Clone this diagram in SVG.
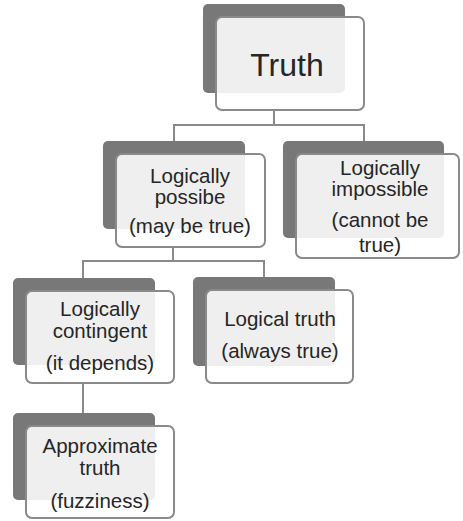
<svg xmlns="http://www.w3.org/2000/svg" width="463" height="521" viewBox="0 0 463 521">
  <style>
    .back { fill: #787878; }
    .front { fill: #ffffff; fill-opacity: 0.88; stroke: #8a8a8a; stroke-width: 2; }
    .lbl { font-family: "Liberation Sans", Arial, sans-serif; font-size: 20.5px; fill: #262626; text-anchor: middle; }
    .big { font-size: 32px; }
    .link { fill: none; stroke: #8a8a8a; stroke-width: 2; }
  </style>
  <rect width="463" height="521" fill="#ffffff"/>

  <!-- connectors -->
  <g id="connectors">
    <path class="link" d="M274,110 V125 M174,141 V125 H364 V141"/>
    <path class="link" d="M173,247 V261 M83,278 V261 H264 V277"/>
    <path class="link" d="M83,383 V413"/>
  </g>

  <g id="truth">
    <rect class="back" x="203" y="4" width="142" height="89" rx="5"/>
    <rect class="front" x="216" y="17" width="148" height="93" rx="6"/>
    <text class="lbl big" x="287" y="76">Truth</text>
  </g>

  <g id="possible">
    <rect class="back" x="103" y="141" width="142" height="88" rx="5"/>
    <rect class="front" x="116" y="154" width="149" height="93" rx="6"/>
    <text class="lbl" x="190" y="183">Logically</text>
    <text class="lbl" x="190" y="204">possibe</text>
    <text class="lbl" x="190" y="233">(may be true)</text>
  </g>

  <g id="impossible">
    <rect class="back" x="283" y="141" width="161" height="97" rx="5"/>
    <rect class="front" x="296" y="154" width="163" height="104" rx="6"/>
    <text class="lbl" x="380" y="175">Logically</text>
    <text class="lbl" x="380" y="196">impossible</text>
    <text class="lbl" x="380" y="227">(cannot be</text>
    <text class="lbl" x="380" y="252">true)</text>
  </g>

  <g id="contingent">
    <rect class="back" x="13" y="278" width="142" height="87" rx="5"/>
    <rect class="front" x="26" y="291" width="148" height="92" rx="6"/>
    <text class="lbl" x="100" y="316">Logically</text>
    <text class="lbl" x="100" y="338">contingent</text>
    <text class="lbl" x="100" y="370">(it depends)</text>
  </g>

  <g id="logical-truth">
    <rect class="back" x="193" y="277" width="142" height="89" rx="5"/>
    <rect class="front" x="206" y="290" width="147" height="93" rx="6"/>
    <text class="lbl" x="280" y="326">Logical truth</text>
    <text class="lbl" x="280" y="358">(always true)</text>
  </g>

  <g id="approximate">
    <rect class="back" x="13" y="413" width="142" height="87" rx="5"/>
    <rect class="front" x="26" y="426" width="148" height="92" rx="6"/>
    <text class="lbl" x="100" y="453">Approximate</text>
    <text class="lbl" x="100" y="475">truth</text>
    <text class="lbl" x="100" y="508">(fuzziness)</text>
  </g>
</svg>
